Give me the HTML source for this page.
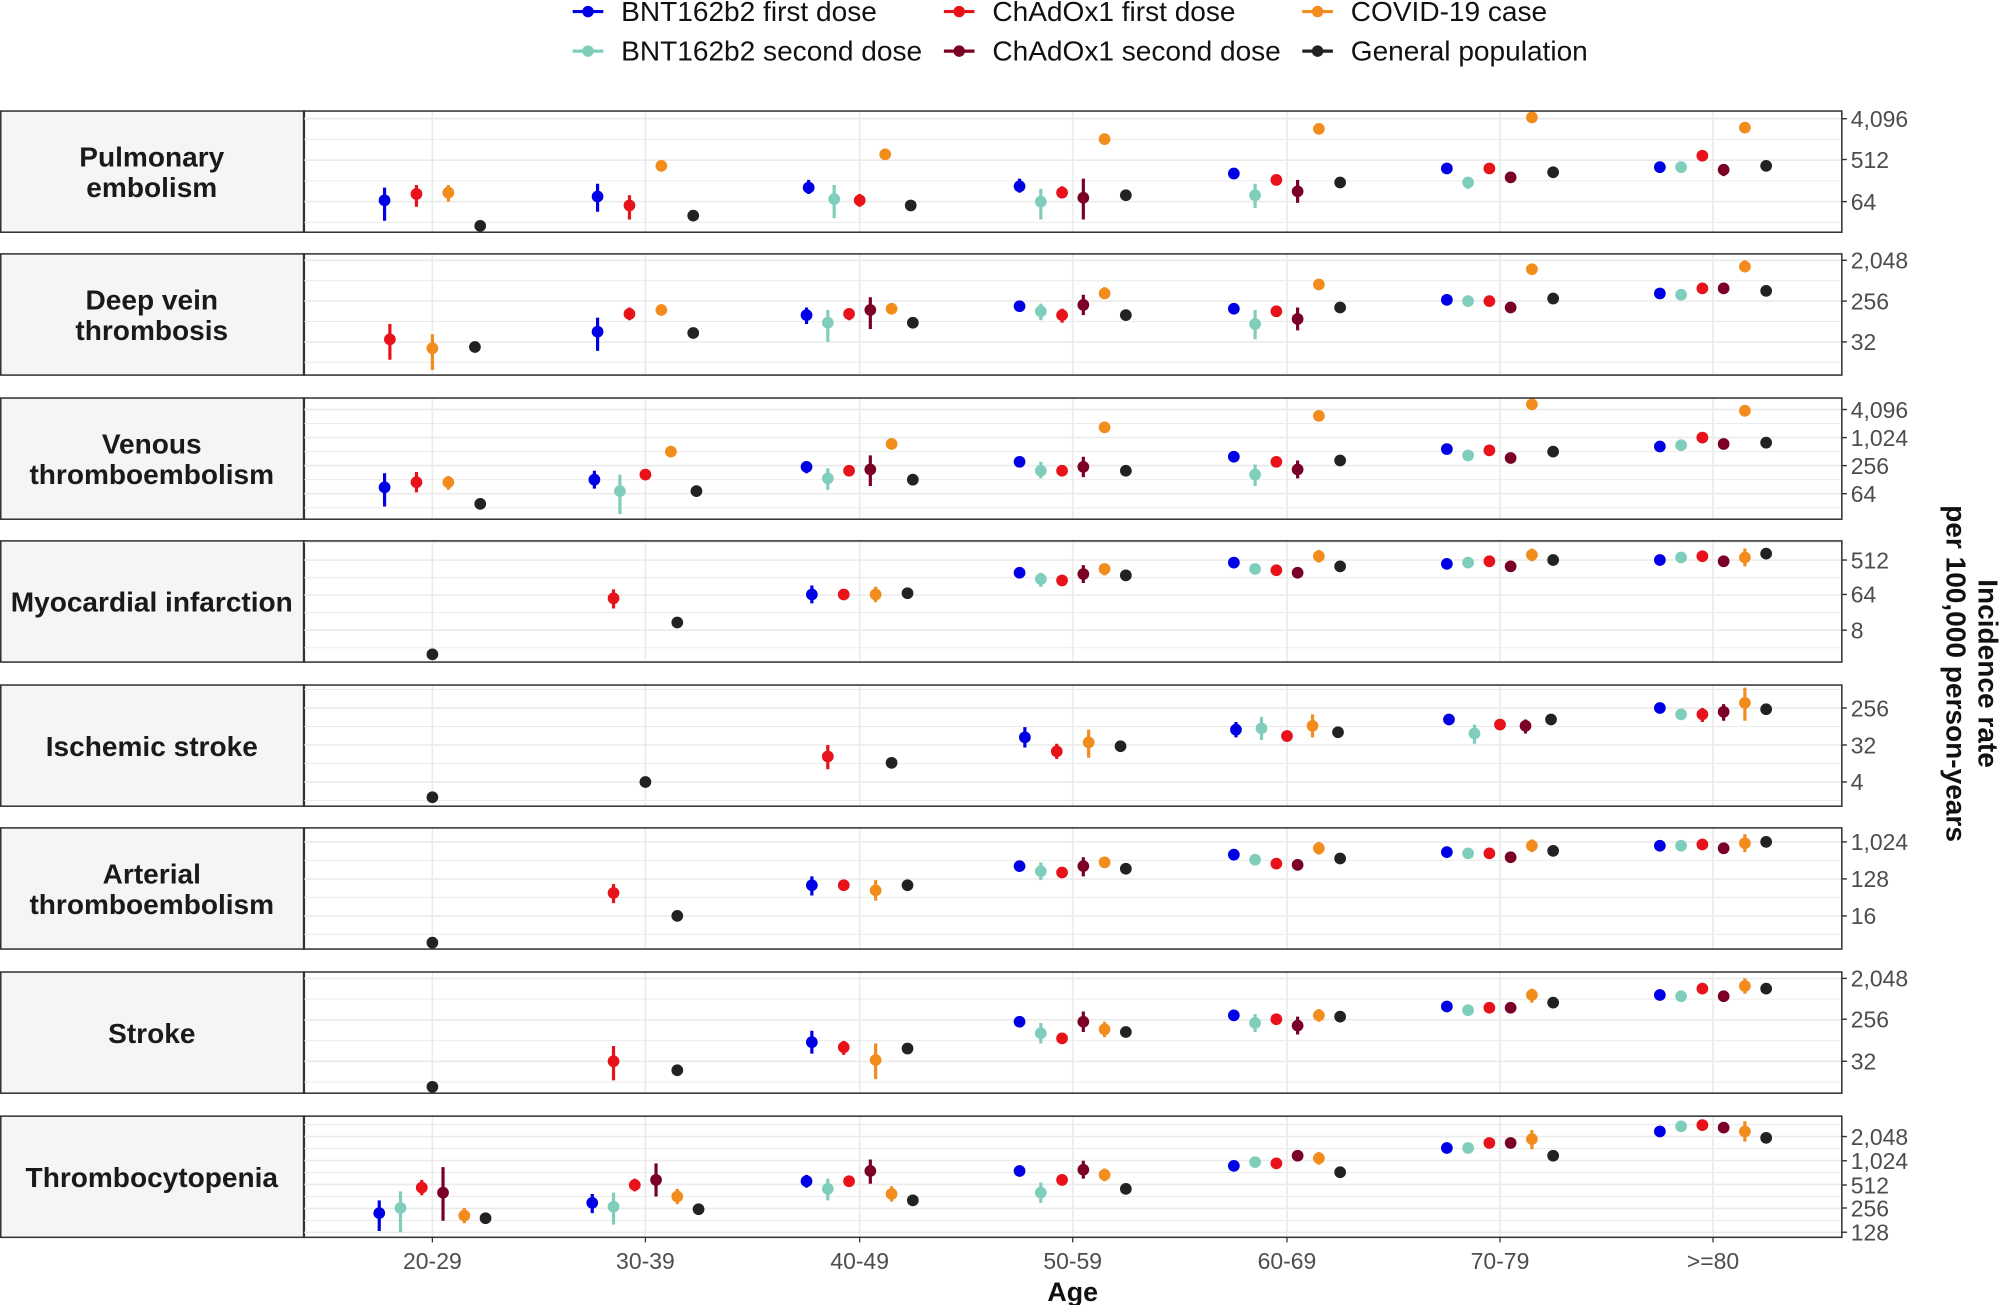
<!DOCTYPE html>
<html><head><meta charset="utf-8"><style>
html,body{margin:0;padding:0;background:#fff;}
svg{display:block;font-family:"Liberation Sans",Arial,sans-serif;}
</style></head><body>
<svg id="s" width="2000" height="1305" viewBox="0 0 1568 1023" xmlns="http://www.w3.org/2000/svg"></svg>
<script>
const S=document.getElementById('s');let h='';
const C={b:'#0000e6',t:'#7fcdbb',r:'#e8121a',d:'#7a0025',o:'#f28c1c',k:'#222222'};
const leg=[[461,9,'b','BNT162b2 first dose'],[752,9,'r','ChAdOx1 first dose'],[1033,9,'o','COVID-19 case'],
[461,40,'t','BNT162b2 second dose'],[752,40,'d','ChAdOx1 second dose'],[1033,40,'k','General population']];
for(const [x,y,c,t] of leg){h+=`<line x1="${x-12}" x2="${x+12}" y1="${y}" y2="${y}" stroke="${C[c]}" stroke-width="2.5"/><circle cx="${x}" cy="${y}" r="4.5" fill="${C[c]}"/><text x="${x+26}" y="${y+7.5}" font-size="22" fill="#111">${t}</text>`;}
const G=[339,506,674,841,1009,1176,1343];
const P=[
{top:87,name:['Pulmonary','embolism'],ticks:[[93,'4,096'],[125,'512'],[158,'64']],st:16.25,
d:[[['b',157,147,173],['r',152,145,162],['o',151,145,158],['k',177]],
[['b',154,144,166],['r',161,153,172],['o',130],['k',169]],
[['b',147,141,152],['t',156,145,171],['r',157,152,162],['o',121],['k',161]],
[['b',146,140,151],['t',158,148,172],['r',151,146,155],['d',155,140,172],['o',109],['k',153]],
[['b',136],['t',153,144,163],['r',141,137,145],['d',150,141,159],['o',101],['k',143]],
[['b',132],['t',143,139,148],['r',132,128,136],['d',139,135,143],['o',92],['k',135]],
[['b',131],['t',131],['r',122,119,126],['d',133,129,138],['o',100],['k',130]]]},
{top:199,name:['Deep vein','thrombosis'],ticks:[[204,'2,048'],[236,'256'],[268,'32']],st:16,
d:[[['r',266,254,282],['o',273,262,290],['k',272]],
[['b',260,249,275],['r',246,241,251],['o',243],['k',261]],
[['b',247,241,254],['t',253,243,268],['r',246,242,251],['d',243,233,258],['o',242],['k',253]],
[['b',240],['t',244,238,251],['r',247,242,253],['d',239,231,247],['o',230,225,234],['k',247]],
[['b',242],['t',254,243,266],['r',244,240,248],['d',250,241,259],['o',223,219,227],['k',241]],
[['b',235],['t',236],['r',236,232,240],['d',241],['o',211,207,215],['k',234]],
[['b',230],['t',231],['r',226],['d',226],['o',209,204,213],['k',228]]]},
{top:312,name:['Venous','thromboembolism'],ticks:[[321,'4,096'],[343,'1,024'],[365,'256'],[387,'64']],st:11,
d:[[['b',382,371,397],['r',378,370,386],['o',378,373,384],['k',395]],
[['b',376,369,383],['t',385,372,403],['r',372],['o',354],['k',385]],
[['b',366,362,371],['t',375,367,384],['r',369],['d',368,357,381],['o',348],['k',376]],
[['b',362],['t',369,362,375],['r',369],['d',366,358,374],['o',335],['k',369]],
[['b',358],['t',372,364,381],['r',362],['d',368,361,375],['o',326],['k',361]],
[['b',352],['t',357],['r',353],['d',359],['o',317],['k',354]],
[['b',350],['t',349],['r',343],['d',348],['o',322],['k',347]]]},
{top:424,name:['Myocardial infarction'],ticks:[[439,'512'],[466,'64'],[494,'8']],st:13.75,
d:[[['k',513]],[['r',469,462,477],['k',488]],
[['b',466,459,473],['r',466],['o',466,460,472],['k',465]],
[['b',449],['t',454,449,460],['r',455],['d',450,443,457],['o',446,442,451],['k',451]],
[['b',441],['t',446],['r',447],['d',449],['o',436,431,441],['k',444]],
[['b',442],['t',441],['r',440],['d',444],['o',435,430,440],['k',439]],
[['b',439],['t',437],['r',436],['d',440],['o',437,430,444],['k',434]]]},
{top:537,name:['Ischemic stroke'],ticks:[[555,'256'],[584,'32'],[613,'4']],st:14.5,
d:[[['k',625]],[['k',613]],[['r',593,584,603],['k',598]],
[['b',578,570,586],['r',589,583,595],['o',582,572,594],['k',585]],
[['b',572,566,578],['t',571,562,580],['r',577],['o',569,560,578],['k',574]],
[['b',564],['t',575,568,583],['r',568],['d',569,564,575],['k',564]],
[['b',555],['t',560],['r',560,555,566],['d',558,552,565],['o',551,539,565],['k',556]]]},
{top:649,name:['Arterial','thromboembolism'],ticks:[[660,'1,024'],[689,'128'],[718,'16']],st:14.5,
d:[[['k',739]],[['r',700,693,708],['k',718]],
[['b',694,687,702],['r',694],['o',698,690,706],['k',694]],
[['b',679],['t',683,676,690],['r',684],['d',679,672,687],['o',676],['k',681]],
[['b',670],['t',674],['r',677],['d',678],['o',665,660,670],['k',673]],
[['b',668],['t',669],['r',669],['d',672],['o',663,658,668],['k',667]],
[['b',663],['t',663],['r',662],['d',665],['o',661,654,668],['k',660]]]},
{top:762,name:['Stroke'],ticks:[[767,'2,048'],[799,'256'],[832,'32']],st:16.25,
d:[[['k',852]],[['r',832,820,847],['k',839]],
[['b',817,808,826],['r',821,816,827],['o',831,818,846],['k',822]],
[['b',801],['t',810,802,818],['r',814],['d',801,793,809],['o',807,801,813],['k',809]],
[['b',796],['t',802,795,809],['r',799],['d',804,797,811],['o',796,791,801],['k',797]],
[['b',789],['t',792],['r',790],['d',790],['o',780,775,786],['k',786]],
[['b',780],['t',781],['r',775],['d',781],['o',773,767,779],['k',775]]]},
{top:875,name:['Thrombocytopenia'],ticks:[[891,'2,048'],[910,'1,024'],[929,'512'],[947,'256'],[966,'128']],st:9.4,
d:[[['b',951,941,965],['t',947,934,966],['r',931,925,937],['d',935,915,957],['o',953,947,959],['k',955]],
[['b',943,936,951],['t',946,935,960],['r',929,924,934],['d',925,912,938],['o',938,932,944],['k',948]],
[['b',926,921,931],['t',932,924,941],['r',926],['d',918,909,928],['o',936,930,942],['k',941]],
[['b',918],['t',935,927,943],['r',925],['d',917,910,924],['o',921,916,926],['k',932]],
[['b',914],['t',911],['r',912],['d',906],['o',908,903,913],['k',919]],
[['b',900],['t',900],['r',896],['d',896],['o',893,886,901],['k',906]],
[['b',887],['t',883],['r',882],['d',884],['o',887,879,895],['k',892]]]}
];
const L=238,R=1444,H=95;
P.forEach((p,pi)=>{
 const T=p.top,B=T+H;
 h+=`<rect x="0.6" y="${T}" width="${L}" height="${H}" fill="#f5f5f5" stroke="#333" stroke-width="1.2"/>`;
 h+=`<clipPath id="c${pi}"><rect x="${L}" y="${T}" width="${R-L}" height="${H}"/></clipPath><g clip-path="url(#c${pi})">`;
 const t0=p.ticks[0][0];
 for(let y=t0-10*p.st;y<B+p.st;y+=p.st){ if(y>T&&y<B) h+=`<line x1="${L}" x2="${R}" y1="${y}" y2="${y}" stroke="#ebebeb" stroke-width="${Math.abs(((y-t0)/p.st)%2)<0.01||Math.abs(((y-t0)/p.st)%2)>1.99?1.3:0.8}"/>`;}
 for(const g of G) h+=`<line x1="${g}" x2="${g}" y1="${T}" y2="${B}" stroke="#ebebeb" stroke-width="1.3"/>`;
 p.d.forEach((grp,gi)=>{const n=grp.length,sp=100/n;
  grp.forEach((pt,i)=>{const x=G[gi]+(i-(n-1)/2)*sp,c=C[pt[0]];
   if(pt.length>2) h+=`<line x1="${x}" x2="${x}" y1="${pt[2]}" y2="${pt[3]}" stroke="${c}" stroke-width="2.5"/>`;
   h+=`<circle cx="${x}" cy="${pt[1]}" r="4.6" fill="${c}"/>`;});});
 h+=`</g><rect x="${L}" y="${T}" width="${R-L}" height="${H}" fill="none" stroke="#333" stroke-width="1.2"/>`;
 for(const [y,t] of p.ticks) h+=`<line x1="${R}" x2="${R+4}" y1="${y}" y2="${y}" stroke="#333" stroke-width="1.1"/><text x="${R+7}" y="${y+6.5}" font-size="18" fill="#4d4d4d">${t}</text>`;
 const cy=T+H/2;
 if(p.name.length==1) h+=`<text x="119" y="${cy+8}" font-size="22" font-weight="bold" text-anchor="middle" fill="#1a1a1a">${p.name[0]}</text>`;
 else h+=`<text x="119" y="${cy-4}" font-size="22" font-weight="bold" text-anchor="middle" fill="#1a1a1a">${p.name[0]}</text><text x="119" y="${cy+20}" font-size="22" font-weight="bold" text-anchor="middle" fill="#1a1a1a">${p.name[1]}</text>`;
});
const xl=['20-29','30-39','40-49','50-59','60-69','70-79','>=80'];
G.forEach((g,i)=>{h+=`<line x1="${g}" x2="${g}" y1="970" y2="974" stroke="#333"/><text x="${g}" y="995" font-size="18" fill="#4d4d4d" text-anchor="middle">${xl[i].replace('>','&gt;')}</text>`;});
h+=`<text x="841" y="1020" font-size="21" font-weight="bold" text-anchor="middle" fill="#111">Age</text>`;
h+=`<g transform="translate(1551,528) rotate(90)"><text x="0" y="0" font-size="22" font-weight="bold" text-anchor="middle" fill="#111">Incidence rate</text><text x="0" y="25" font-size="22" font-weight="bold" text-anchor="middle" fill="#111">per 100,000 person-years</text></g>`;
S.innerHTML=h;
</script>
</body></html>
